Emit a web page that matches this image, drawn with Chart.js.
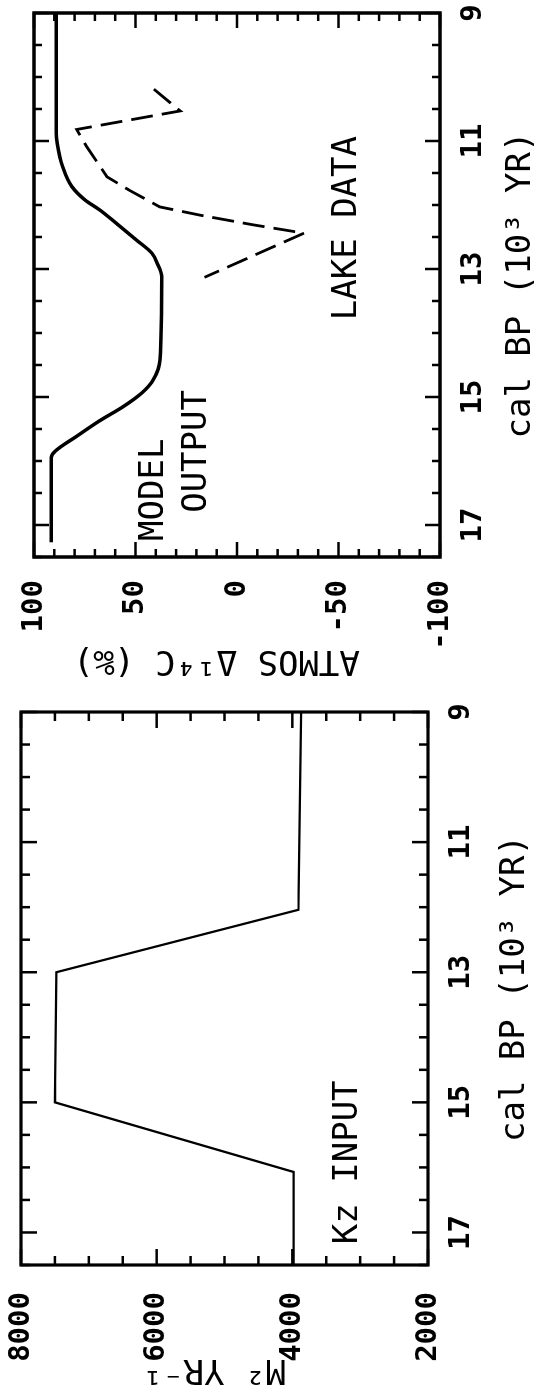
<!DOCTYPE html>
<html>
<head>
<meta charset="utf-8">
<script src="https://cdn.jsdelivr.net/npm/chart.js@4/dist/chart.umd.min.js"></script>
<style>
  html, body { margin: 0; padding: 0; background: #fff; overflow: hidden; }
  body { width: 539px; height: 1395px; position: relative; }
  /* the figure is drawn landscape and turned a quarter turn, like the scan */
  #sheet {
    position: absolute; left: 0; top: 0; width: 1395px; height: 539px;
    transform-origin: 0 0; transform: translate(0, 1395px) rotate(-90deg);
  }
  /* canvases start 30px above the sheet so the y labels get their top room */
  #sheet canvas { position: absolute; top: -30px; }
</style>
</head>
<body>
<div id="sheet">
  <canvas id="kzChart" width="700" height="569" style="left:0"></canvas>
  <canvas id="atmosChart" width="695" height="569" style="left:700px"></canvas>
</div>
<script>
// shared x axis: cal BP, thousands of years
const calBpTicks = [9, 11, 13, 15, 17];

// left panel: Kz input (m2/yr)
const kzAge   = [9, 12.04, 13, 15, 16.07, 17.5];
const kzValue = [3870, 3910, 7480, 7500, 3980, 3980];
const kzTicks = [8000, 6000, 4000, 2000];

// right panel: atmospheric D14C, model output vs lake data
const modelAge  = [9, 10.88, 11.04, 11.40, 11.71, 11.92, 12.08, 12.29, 12.55, 12.75, 12.91, 13.12, 14.42, 14.73, 14.94, 15.15, 15.37, 15.61, 15.85, 15.95, 17.27];
const modelD14C = [89, 89, 88.5, 85.9, 81.4, 74.9, 67.5, 59.3, 49.4, 42.0, 39.3, 37.1, 37.9, 41.2, 47, 56, 67.6, 78.8, 89.7, 91.5, 91.5];
const lakeAge   = [10.19, 10.53, 10.82, 11.09, 11.56, 11.77, 12.03, 12.16, 12.31, 12.44, 13.13];
const lakeD14C  = [41, 28, 79, 74, 64, 53, 38, 18, -8, -33, 16];
const d14cTicks = [100, 50, 0, -50, -100];

const SHIFT = 30; // canvas offset above the sheet, see css
const mono = "'DejaVu Sans Mono', 'Liberation Mono', monospace";
const tickFont  = { family: mono, size: 29, weight: 'bold', lineHeight: 1 };
const labelFont = { family: mono, size: 34, lineHeight: 1 };

Chart.defaults.color = '#000';

function pairs(xs, ys) {
  return xs.map((x, i) => ({ x: x, y: ys[i] }));
}

// box round the plot with inward ticks on all four sides, plus the in-plot notes
const frameTicks = {
  id: 'frameTicks',
  afterDatasetsDraw(chart, args, opts) {
    const ctx = chart.ctx;
    const a = chart.chartArea;
    const x = chart.scales.x;
    const y = chart.scales.y;
    ctx.save();
    ctx.strokeStyle = '#000';
    ctx.lineCap = 'butt';
    ctx.lineWidth = opts.tickWidth;

    const seg = (x1, y1, x2, y2) => {
      ctx.beginPath();
      ctx.moveTo(x1, y1);
      ctx.lineTo(x2, y2);
      ctx.stroke();
    };
    const isMajor = (list, v, step) => list.some(m => Math.abs(m - v) < step / 100);

    let n = Math.round((x.max - x.min) / opts.xStep);
    for (let i = 0; i <= n; i++) {
      const v = x.min + i * opts.xStep;
      const len = isMajor(calBpTicks, v, opts.xStep) ? opts.majorLen : opts.minorLen;
      const px = x.getPixelForValue(v);
      seg(px, a.bottom, px, a.bottom - len);
      seg(px, a.top, px, a.top + len);
    }
    n = Math.round((y.max - y.min) / opts.yStep);
    for (let i = 0; i <= n; i++) {
      const v = y.min + i * opts.yStep;
      const len = isMajor(opts.yMajor, v, opts.yStep) ? opts.majorLen : opts.minorLen;
      const py = y.getPixelForValue(v);
      seg(a.left, py, a.left + len, py);
      seg(a.right, py, a.right - len, py);
    }

    ctx.lineWidth = opts.frameWidth;
    ctx.strokeRect(a.left, a.top, a.right - a.left, a.bottom - a.top);

    ctx.fillStyle = '#000';
    ctx.font = labelFont.size + 'px ' + mono;
    ctx.textAlign = 'left';
    ctx.textBaseline = 'alphabetic';
    opts.notes.forEach(t => {
      ctx.fillText(t.text, x.getPixelForValue(t.x), y.getPixelForValue(t.y));
    });
    ctx.restore();
  }
};

function panel(canvasId, cfg) {
  return new Chart(document.getElementById(canvasId), {
    type: 'line',
    data: { datasets: cfg.datasets },
    options: {
      responsive: false,
      animation: false,
      layout: { padding: { top: cfg.top + SHIFT, right: cfg.right, left: 0, bottom: 0 } },
      elements: { point: { radius: 0 } },
      plugins: {
        legend: { display: false },
        tooltip: { enabled: false },
        frameTicks: cfg.frame
      },
      scales: {
        x: {
          type: 'linear',
          min: 9,
          max: 17.5,
          reverse: true,
          grid: { display: false, drawTicks: false },
          border: { display: false },
          afterBuildTicks: s => { s.ticks = calBpTicks.map(v => ({ value: v })); },
          afterFit: s => { s.height = cfg.xHeight; },
          ticks: { font: tickFont, padding: 19, maxRotation: 0, autoSkip: false, callback: v => String(v) },
          title: { display: true, text: 'cal BP (10³ YR)', font: labelFont, padding: { top: 0, bottom: cfg.xTitlePad } }
        },
        y: {
          type: 'linear',
          min: cfg.yMin,
          max: cfg.yMax,
          grid: { display: false, drawTicks: false },
          border: { display: false },
          afterBuildTicks: s => { s.ticks = cfg.yTicks.map(v => ({ value: v })); },
          afterFit: s => { s.width = cfg.left; },
          ticks: { font: tickFont, padding: cfg.yLabelPad, autoSkip: false, callback: v => String(v) },
          title: { display: true, text: cfg.yTitle, font: labelFont, padding: { top: cfg.yTitlePad, bottom: 0 } }
        }
      }
    },
    plugins: [frameTicks]
  });
}

panel('kzChart', {
  left: 130, right: 17, top: 21, xHeight: 111,
  xTitlePad: 7, yLabelPad: 27, yTitlePad: 9,
  yMin: 2000, yMax: 8000, yTicks: kzTicks,
  yTitle: ' M² YR⁻¹',
  datasets: [{
    data: pairs(kzAge, kzValue),
    borderColor: '#000',
    borderWidth: 2.3,
    tension: 0
  }],
  frame: {
    xStep: 0.5, yStep: 500, yMajor: kzTicks,
    minorLen: 9, majorLen: 16, tickWidth: 2.5, frameWidth: 3.2,
    notes: [{ text: 'Kz INPUT', x: 17.18, y: 3047 }]
  }
});

panel('atmosChart', {
  left: 138, right: 13, top: 34, xHeight: 99,
  xTitlePad: 1, yLabelPad: 23, yTitlePad: 18,
  yMin: -100, yMax: 100, yTicks: d14cTicks,
  yTitle: '  ATMOS Δ¹⁴C (‰)',
  datasets: [{
    data: pairs(modelAge, modelD14C),
    borderColor: '#000',
    borderWidth: 3.5,
    cubicInterpolationMode: 'monotone'
  }, {
    data: pairs(lakeAge, lakeD14C),
    borderColor: '#000',
    borderWidth: 2.8,
    borderDash: [22, 9],
    tension: 0
  }],
  frame: {
    xStep: 0.5, yStep: 10, yMajor: d14cTicks,
    minorLen: 8, majorLen: 15, tickWidth: 2.5, frameWidth: 3.5,
    notes: [
      { text: 'MODEL', x: 17.25, y: 36.5 },
      { text: 'OUTPUT', x: 16.81, y: 15.3 },
      { text: 'LAKE DATA', x: 13.8, y: -58.6 }
    ]
  }
});
</script>
</body>
</html>
